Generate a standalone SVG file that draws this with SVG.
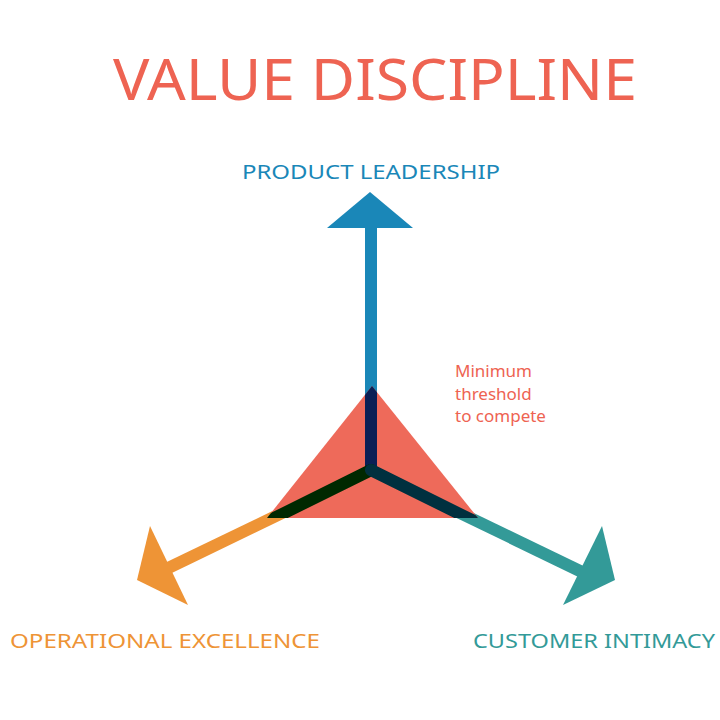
<svg xmlns="http://www.w3.org/2000/svg" width="720" height="720" viewBox="0 0 720 720">
<style>
text{font-family:"Noto Sans","Liberation Sans",sans-serif}
.lbl{font-size:20px}
</style>
<rect width="720" height="720" fill="#fff"/>
<text x="113" y="100" font-size="56" fill="#ee6352" textLength="524" lengthAdjust="spacingAndGlyphs">VALUE DISCIPLINE</text>
<g id="connectors">
<line x1="371" y1="470" x2="371" y2="226" stroke="#1a87b8" stroke-width="12"/>
<polygon points="370,192 327,228 413,228" fill="#1a87b8"/>
<line x1="371" y1="470" x2="160" y2="572" stroke="#ee9436" stroke-width="12"/>
<polygon points="150,526 137,580 188,605" fill="#ee9436"/>
<line x1="371" y1="470" x2="582" y2="572" stroke="#339a98" stroke-width="12"/>
<polygon points="602,526 615,580 563,605" fill="#339a98"/>
</g>
<g id="threshold">
<polygon points="372,386 267,518 478,518" fill="#ee6a5a"/>
<clipPath id="c"><polygon points="372,386 267,518 478,518"/></clipPath>
<g clip-path="url(#c)" stroke-width="12" stroke-linecap="round">
<line x1="371" y1="470" x2="371" y2="380" stroke="#0a1f55"/>
<line x1="371" y1="470" x2="250" y2="530" stroke="#002800"/>
<line x1="371" y1="470" x2="492" y2="530" stroke="#00303f"/>
</g>
<text font-size="17" fill="#ee6352"><tspan x="455" y="377">Minimum</tspan><tspan x="455" y="400">threshold</tspan><tspan x="455" y="422">to compete</tspan></text>
</g>
<g id="product"><text class="lbl" x="242" y="179" fill="#1a87b8" textLength="258" lengthAdjust="spacingAndGlyphs">PRODUCT LEADERSHIP</text></g>
<g id="operational"><text class="lbl" x="10" y="648" fill="#ee9436" textLength="310" lengthAdjust="spacingAndGlyphs">OPERATIONAL EXCELLENCE</text></g>
<g id="customer"><text class="lbl" x="473" y="648" fill="#339a98" textLength="242" lengthAdjust="spacingAndGlyphs">CUSTOMER INTIMACY</text></g>
</svg>
